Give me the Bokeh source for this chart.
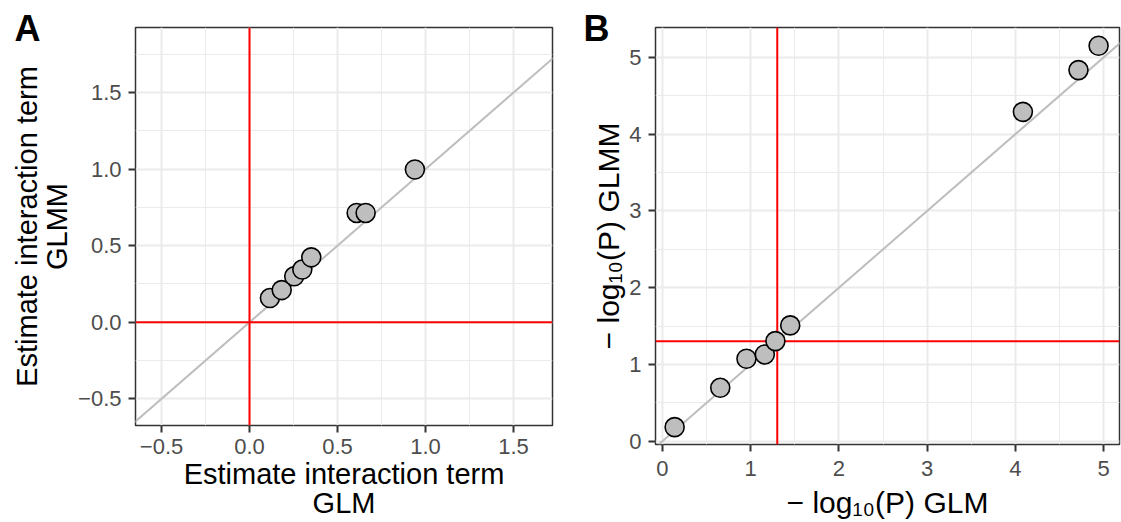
from bokeh.plotting import figure
from bokeh.models import Range1d, FixedTicker, Slope, Span
from bokeh.embed import file_html
from bokeh.resources import INLINE

# ---------------- data ----------------
# Panel A: estimate of interaction term
a_glm = [0.116, 0.183, 0.254, 0.300, 0.351, 0.609, 0.660, 0.940]
a_glmm = [0.158, 0.210, 0.300, 0.344, 0.424, 0.714, 0.714, 0.998]
a_ticks = [-0.5, 0.0, 0.5, 1.0, 1.5]
a_tick_labels = ["\u22120.5", "0.0", "0.5", "1.0", "1.5"]
a_minor = [-0.75, -0.25, 0.25, 0.75, 1.25, 1.75]
a_xlim = (-0.648, 1.722)
a_ylim = (-0.675, 1.926)

# Panel B: -log10(P)
b_glm = [0.138, 0.655, 0.952, 1.160, 1.280, 1.448, 4.085, 4.715, 4.943]
b_glmm = [0.183, 0.696, 1.074, 1.130, 1.304, 1.509, 4.291, 4.835, 5.152]
b_ticks = [0, 1, 2, 3, 4, 5]
b_tick_labels = ["0", "1", "2", "3", "4", "5"]
b_minor = [0.5, 1.5, 2.5, 3.5, 4.5]
b_xlim = (-0.079, 5.18)
b_ylim = (-0.043, 5.39)
sig_line = 1.30103  # -log10(0.05)

FONT = "Liberation Sans"


def style(p, ticks, minor, labels):
    for ax in (p.xaxis[0], p.yaxis[0]):
        ax.ticker = FixedTicker(ticks=ticks, minor_ticks=minor)
        ax.major_label_overrides = {t: l for t, l in zip(ticks, labels)}
        ax.axis_line_color = None
        ax.major_tick_line_color = "#333333"
        ax.major_tick_line_width = 2
        ax.major_tick_out = 7
        ax.major_tick_in = 0
        ax.minor_tick_line_color = None
        ax.major_label_text_font = FONT
        ax.major_label_text_font_size = "22px"
        ax.major_label_text_color = "#4D4D4D"
        ax.axis_label_text_font = FONT
        ax.axis_label_text_font_size = "29px"
        ax.axis_label_text_font_style = "normal"
        ax.axis_label_text_color = "black"
        ax.axis_label_text_line_height = 0.93
    for g in (p.xgrid[0], p.ygrid[0]):
        g.grid_line_color = "#EBEBEB"
        g.grid_line_width = 2
        g.minor_grid_line_color = "#EBEBEB"
        g.minor_grid_line_width = 1
    p.outline_line_color = "#333333"
    p.outline_line_width = 1.5
    p.background_fill_color = "white"
    p.border_fill_color = "white"


def panel_tag(p, text, offset):
    t = p.title
    t.text = text
    t.align = "left"
    t.vertical_align = "bottom"
    t.offset = offset
    try:
        t.standoff = -42
    except Exception:
        pass
    t.text_font = FONT
    t.text_font_size = "36px"
    t.text_font_style = "bold"
    t.text_color = "black"


# ---------------- panel A ----------------
pa = figure(width=580, height=522, output_backend="svg", toolbar_location=None,
            x_range=Range1d(*a_xlim), y_range=Range1d(*a_ylim),
            min_border_left=135, min_border_right=28,
            min_border_top=27, min_border_bottom=97)
pa.xaxis.axis_label = "Estimate interaction term\nGLM"
pa.yaxis.axis_label = "Estimate interaction term\nGLMM"
style(pa, a_ticks, a_minor, a_tick_labels)
pa.xaxis.major_label_standoff = 6
pa.xaxis.axis_label_standoff = 1
pa.yaxis.major_label_standoff = 7
pa.yaxis.axis_label_standoff = 2
pa.add_layout(Slope(gradient=1, y_intercept=0, line_color="#BEBEBE", line_width=2, level="underlay"))
pa.add_layout(Span(location=0, dimension="height", line_color="red", line_width=2, level="underlay"))
pa.add_layout(Span(location=0, dimension="width", line_color="red", line_width=2, level="underlay"))
pa.scatter(a_glm, a_glmm, size=19, fill_color="#BEBEBE", line_color="black", line_width=1.6)
panel_tag(pa, "A", -121)

# ---------------- panel B ----------------
pb = figure(width=541, height=522, output_backend="svg", toolbar_location=None,
            x_range=Range1d(*b_xlim), y_range=Range1d(*b_ylim),
            min_border_left=75, min_border_right=2,
            min_border_top=27, min_border_bottom=78)
pb.xaxis.axis_label = "\u2212 log\u2081\u2080(P) GLM"
pb.yaxis.axis_label = "\u2212 log\u2081\u2080(P) GLMM"
style(pb, b_ticks, b_minor, b_tick_labels)
pb.xaxis.axis_label_text_font_size = "30px"
pb.yaxis.axis_label_text_font_size = "30px"
pb.xaxis.major_label_standoff = 9
pb.xaxis.axis_label_standoff = 7
pb.yaxis.major_label_standoff = 7
pb.yaxis.axis_label_standoff = 1
pb.add_layout(Slope(gradient=1, y_intercept=0, line_color="#BEBEBE", line_width=2, level="underlay"))
pb.add_layout(Span(location=sig_line, dimension="height", line_color="red", line_width=2, level="underlay"))
pb.add_layout(Span(location=sig_line, dimension="width", line_color="red", line_width=2, level="underlay"))
pb.scatter(b_glm, b_glmm, size=19, fill_color="#BEBEBE", line_color="black", line_width=1.6)
panel_tag(pb, "B", -72)

# two independent roots placed side by side (no frame alignment between them)
TEMPLATE = """
{% block contents %}
<div style="display: flex; flex-direction: row; align-items: flex-start;">
{{ super() }}
</div>
{% endblock %}
"""

open("out.html", "w").write(file_html([pa, pb], INLINE, template=TEMPLATE))
